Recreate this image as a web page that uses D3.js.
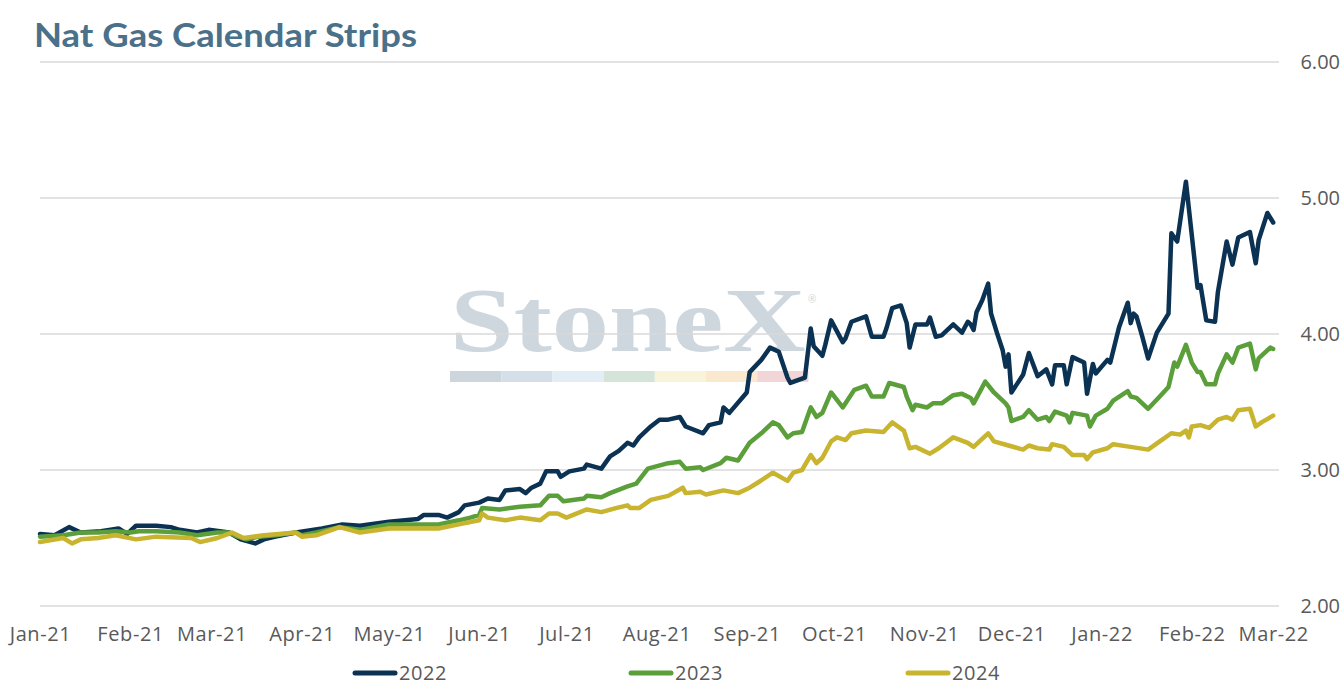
<!DOCTYPE html>
<html>
<head>
<meta charset="utf-8">
<script src="https://cdn.jsdelivr.net/npm/d3@7"></script>
<style>
  body { margin: 0; background: #fff; }
  svg { display: block; }
  .tick text { font-family: "Open Sans", Lato, sans-serif; fill: #595959; }
</style>
</head>
<body>
<svg id="chart" width="1344" height="695"></svg>
<script>
// ---- data ----
const seriesNames = ["2022", "2023", "2024"];
const seriesColors = ["#0b3253", "#5b9f3b", "#c9b42f"];
const yTicks = [2, 3, 4, 5, 6];

const strip2022 = [
  ["2021-01-01",2.53],["2021-01-06",2.52],["2021-01-11",2.58],["2021-01-15",2.54],["2021-01-22",2.55],
  ["2021-01-28",2.57],["2021-01-31",2.53],["2021-02-03",2.59],["2021-02-10",2.59],["2021-02-15",2.58],
  ["2021-02-18",2.56],["2021-02-24",2.54],["2021-02-28",2.56],["2021-03-07",2.54],["2021-03-11",2.49],
  ["2021-03-16",2.46],["2021-03-19",2.49],["2021-03-23",2.51],["2021-03-30",2.54],["2021-04-08",2.57],
  ["2021-04-15",2.60],["2021-04-21",2.59],["2021-05-01",2.62],["2021-05-11",2.64],["2021-05-13",2.67],
  ["2021-05-18",2.67],["2021-05-21",2.65],["2021-05-25",2.69],["2021-05-27",2.74],["2021-06-01",2.76],
  ["2021-06-04",2.79],["2021-06-08",2.78],["2021-06-10",2.85],["2021-06-15",2.86],["2021-06-17",2.83],
  ["2021-06-19",2.87],["2021-06-22",2.90],["2021-06-24",2.99],["2021-06-28",2.99],["2021-06-29",2.95],
  ["2021-07-02",2.99],["2021-07-07",3.01],["2021-07-08",3.04],["2021-07-13",3.01],["2021-07-16",3.10],
  ["2021-07-19",3.14],["2021-07-22",3.20],["2021-07-24",3.18],["2021-07-26",3.24],["2021-07-30",3.32],
  ["2021-08-02",3.37],["2021-08-05",3.37],["2021-08-09",3.39],["2021-08-11",3.32],["2021-08-17",3.27],
  ["2021-08-19",3.33],["2021-08-23",3.35],["2021-08-24",3.46],["2021-08-26",3.42],["2021-09-01",3.57],
  ["2021-09-02",3.72],["2021-09-06",3.81],["2021-09-09",3.90],["2021-09-12",3.87],["2021-09-15",3.68],
  ["2021-09-16",3.64],["2021-09-21",3.68],["2021-09-23",4.04],["2021-09-24",3.91],["2021-09-27",3.84],
  ["2021-09-28",3.92],["2021-09-30",4.10],["2021-10-04",3.94],["2021-10-05",3.97],["2021-10-07",4.09],
  ["2021-10-12",4.13],["2021-10-14",3.98],["2021-10-18",3.98],["2021-10-19",4.04],["2021-10-21",4.19],
  ["2021-10-24",4.21],["2021-10-26",4.08],["2021-10-27",3.90],["2021-10-29",4.07],["2021-11-02",4.07],
  ["2021-11-03",4.12],["2021-11-05",3.98],["2021-11-07",3.99],["2021-11-11",4.07],["2021-11-14",4.01],
  ["2021-11-16",4.09],["2021-11-17",4.07],["2021-11-18",4.03],["2021-11-19",4.16],["2021-11-21",4.25],
  ["2021-11-23",4.37],["2021-11-24",4.15],["2021-11-26",4.01],["2021-11-28",3.88],["2021-11-29",3.76],
  ["2021-11-30",3.85],["2021-12-01",3.57],["2021-12-05",3.70],["2021-12-07",3.86],["2021-12-10",3.69],
  ["2021-12-13",3.74],["2021-12-15",3.63],["2021-12-16",3.77],["2021-12-19",3.77],["2021-12-20",3.63],
  ["2021-12-22",3.83],["2021-12-26",3.79],["2021-12-27",3.56],["2021-12-29",3.78],["2021-12-30",3.71],
  ["2022-01-03",3.81],["2022-01-04",3.79],["2022-01-07",4.05],["2022-01-10",4.23],["2022-01-11",4.08],
  ["2022-01-12",4.15],["2022-01-13",4.13],["2022-01-15",3.98],["2022-01-17",3.82],["2022-01-20",4.01],
  ["2022-01-24",4.15],["2022-01-25",4.74],["2022-01-27",4.68],["2022-01-30",5.12],["2022-02-03",4.34],
  ["2022-02-04",4.36],["2022-02-06",4.10],["2022-02-09",4.09],["2022-02-10",4.31],["2022-02-13",4.68],
  ["2022-02-15",4.51],["2022-02-17",4.71],["2022-02-21",4.75],["2022-02-23",4.52],["2022-02-24",4.69],
  ["2022-02-27",4.89],["2022-03-01",4.82]
];

const strip2023 = [
  ["2021-01-01",2.51],["2021-01-09",2.52],["2021-01-15",2.54],["2021-01-21",2.54],["2021-01-27",2.55],
  ["2021-02-01",2.54],["2021-02-04",2.55],["2021-02-10",2.55],["2021-02-18",2.54],["2021-02-24",2.52],
  ["2021-03-03",2.54],["2021-03-07",2.54],["2021-03-10",2.51],["2021-03-13",2.49],["2021-03-17",2.51],
  ["2021-03-23",2.52],["2021-03-30",2.54],["2021-04-01",2.52],["2021-04-06",2.54],["2021-04-14",2.58],
  ["2021-04-21",2.56],["2021-05-01",2.60],["2021-05-18",2.60],["2021-05-25",2.63],["2021-05-29",2.65],
  ["2021-06-01",2.67],["2021-06-02",2.72],["2021-06-08",2.71],["2021-06-15",2.73],["2021-06-22",2.74],
  ["2021-06-25",2.81],["2021-06-28",2.81],["2021-06-30",2.77],["2021-07-07",2.79],["2021-07-08",2.81],
  ["2021-07-13",2.80],["2021-07-16",2.83],["2021-07-22",2.88],["2021-07-25",2.90],["2021-07-29",3.01],
  ["2021-08-05",3.05],["2021-08-09",3.06],["2021-08-11",3.01],["2021-08-16",3.02],["2021-08-17",3.00],
  ["2021-08-23",3.05],["2021-08-25",3.09],["2021-08-29",3.07],["2021-09-02",3.20],["2021-09-06",3.27],
  ["2021-09-10",3.35],["2021-09-12",3.33],["2021-09-15",3.24],["2021-09-17",3.27],["2021-09-20",3.28],
  ["2021-09-23",3.46],["2021-09-25",3.39],["2021-09-27",3.42],["2021-09-30",3.57],["2021-10-04",3.46],
  ["2021-10-08",3.59],["2021-10-12",3.62],["2021-10-14",3.54],["2021-10-18",3.54],["2021-10-20",3.64],
  ["2021-10-25",3.61],["2021-10-26",3.54],["2021-10-28",3.44],["2021-10-29",3.48],["2021-11-02",3.46],
  ["2021-11-04",3.49],["2021-11-07",3.49],["2021-11-11",3.55],["2021-11-14",3.56],["2021-11-17",3.53],
  ["2021-11-18",3.49],["2021-11-22",3.65],["2021-11-25",3.57],["2021-11-29",3.49],["2021-11-30",3.46],
  ["2021-12-01",3.36],["2021-12-05",3.39],["2021-12-07",3.44],["2021-12-10",3.37],["2021-12-13",3.39],
  ["2021-12-14",3.36],["2021-12-16",3.43],["2021-12-20",3.40],["2021-12-21",3.35],["2021-12-22",3.42],
  ["2021-12-27",3.40],["2021-12-28",3.32],["2021-12-30",3.40],["2022-01-03",3.45],["2022-01-05",3.51],
  ["2022-01-10",3.58],["2022-01-11",3.54],["2022-01-13",3.53],["2022-01-17",3.45],["2022-01-21",3.54],
  ["2022-01-24",3.61],["2022-01-26",3.79],["2022-01-27",3.76],["2022-01-30",3.92],["2022-02-01",3.79],
  ["2022-02-03",3.72],["2022-02-04",3.72],["2022-02-06",3.63],["2022-02-09",3.63],["2022-02-10",3.71],
  ["2022-02-13",3.85],["2022-02-15",3.79],["2022-02-17",3.90],["2022-02-21",3.93],["2022-02-23",3.74],
  ["2022-02-24",3.82],["2022-02-28",3.90],["2022-03-01",3.89]
];

const strip2024 = [
  ["2021-01-01",2.47],["2021-01-09",2.50],["2021-01-12",2.46],["2021-01-15",2.49],["2021-01-21",2.50],
  ["2021-01-27",2.52],["2021-02-03",2.49],["2021-02-10",2.51],["2021-02-22",2.50],["2021-02-25",2.47],
  ["2021-03-03",2.50],["2021-03-08",2.54],["2021-03-12",2.50],["2021-03-19",2.52],["2021-03-30",2.54],
  ["2021-04-01",2.51],["2021-04-06",2.52],["2021-04-14",2.58],["2021-04-21",2.54],["2021-05-01",2.57],
  ["2021-05-18",2.57],["2021-05-25",2.60],["2021-06-01",2.63],["2021-06-02",2.68],["2021-06-04",2.65],
  ["2021-06-10",2.63],["2021-06-15",2.65],["2021-06-22",2.63],["2021-06-25",2.68],["2021-06-28",2.68],
  ["2021-07-01",2.65],["2021-07-08",2.71],["2021-07-13",2.69],["2021-07-18",2.72],["2021-07-22",2.74],
  ["2021-07-23",2.72],["2021-07-26",2.72],["2021-07-30",2.78],["2021-08-05",2.81],["2021-08-10",2.87],
  ["2021-08-11",2.83],["2021-08-16",2.84],["2021-08-18",2.82],["2021-08-24",2.85],["2021-08-29",2.83],
  ["2021-09-02",2.87],["2021-09-05",2.91],["2021-09-10",2.98],["2021-09-15",2.92],["2021-09-17",2.98],
  ["2021-09-20",3.00],["2021-09-23",3.11],["2021-09-25",3.05],["2021-09-27",3.09],["2021-09-30",3.21],
  ["2021-10-02",3.24],["2021-10-05",3.22],["2021-10-07",3.27],["2021-10-12",3.29],["2021-10-18",3.28],
  ["2021-10-21",3.35],["2021-10-25",3.29],["2021-10-27",3.16],["2021-10-29",3.17],["2021-11-03",3.12],
  ["2021-11-06",3.16],["2021-11-11",3.24],["2021-11-16",3.20],["2021-11-18",3.17],["2021-11-20",3.21],
  ["2021-11-23",3.27],["2021-11-25",3.21],["2021-11-30",3.18],["2021-12-05",3.15],["2021-12-07",3.18],
  ["2021-12-10",3.16],["2021-12-14",3.15],["2021-12-15",3.19],["2021-12-19",3.17],["2021-12-22",3.11],
  ["2021-12-26",3.11],["2021-12-27",3.08],["2021-12-29",3.13],["2022-01-03",3.16],["2022-01-05",3.19],
  ["2022-01-11",3.17],["2022-01-17",3.15],["2022-01-21",3.21],["2022-01-25",3.27],["2022-01-28",3.26],
  ["2022-01-30",3.29],["2022-01-31",3.24],["2022-02-01",3.32],["2022-02-04",3.33],["2022-02-07",3.31],
  ["2022-02-10",3.37],["2022-02-13",3.39],["2022-02-15",3.37],["2022-02-17",3.44],["2022-02-21",3.45],
  ["2022-02-23",3.32],["2022-02-25",3.35],["2022-03-01",3.40]
];

const allSeries = [strip2022, strip2023, strip2024];

// ---- chart ----
const parseDate = d3.timeParse("%Y-%m-%d");
const svg = d3.select("#chart");

const x = d3.scaleTime()
  .domain([parseDate("2021-01-01"), parseDate("2022-03-03")])
  .range([40, 1279]);

const y = d3.scaleLinear()
  .domain([2, 6])
  .range([606, 62]);

// title
svg.append("text")
  .attr("x", 34)
  .attr("y", 47)
  .attr("font-family", "Lato, 'Open Sans', sans-serif")
  .attr("font-weight", 700)
  .attr("font-size", 32)
  .attr("textLength", 383)
  .attr("lengthAdjust", "spacingAndGlyphs")
  .attr("fill", "#4b7089")
  .text("Nat Gas Calendar Strips");

// watermark
const wm = svg.append("g").attr("class", "watermark");
wm.append("text")
  .attr("x", 450)
  .attr("y", 351)
  .attr("font-family", "'Liberation Serif', 'DejaVu Serif', serif")
  .attr("font-weight", 700)
  .attr("font-size", 92)
  .attr("textLength", 356)
  .attr("lengthAdjust", "spacingAndGlyphs")
  .attr("fill", "#cfd7de")
  .text("StoneX");
wm.append("text")
  .attr("x", 808)
  .attr("y", 303)
  .attr("font-family", "'Open Sans', sans-serif")
  .attr("font-size", 10)
  .attr("fill", "#cfd7de")
  .text("\u00AE");
const bandColors = ["#cdd5dd", "#d5dfe9", "#e2edf5", "#d4e4d9", "#f7f4da", "#fbe9cf", "#f1d5d7"];
wm.selectAll("rect")
  .data(bandColors)
  .enter()
  .append("rect")
  .attr("x", (d, i) => 450 + i * 51.2)
  .attr("y", 371)
  .attr("width", 51.2)
  .attr("height", 11)
  .attr("fill", d => d);

// gridlines
svg.append("g")
  .selectAll("line")
  .data(yTicks)
  .enter()
  .append("line")
  .attr("x1", 40)
  .attr("x2", 1279)
  .attr("y1", d => y(d))
  .attr("y2", d => y(d))
  .attr("stroke", "#d9d9d9")
  .attr("stroke-width", 1.5);

// y axis (right)
const yAxis = svg.append("g")
  .attr("transform", "translate(1340,0)")
  .call(d3.axisRight(y).tickValues(yTicks).tickSize(0).tickFormat(d3.format(".2f")));
yAxis.select(".domain").remove();
yAxis.selectAll("text")
  .attr("x", 0)
  .attr("text-anchor", "end")
  .attr("font-size", 20);

// x axis
const xAxis = svg.append("g")
  .attr("transform", "translate(0,624)")
  .call(d3.axisBottom(x)
    .ticks(d3.timeMonth.every(1))
    .tickSize(0)
    .tickFormat(d3.timeFormat("%b-%y")));
xAxis.select(".domain").remove();
xAxis.selectAll("text")
  .attr("font-size", 20)
  .attr("letter-spacing", 0.6)
  .attr("dy", "0.71em");

// lines
const line = d3.line()
  .x(d => x(parseDate(d[0])))
  .y(d => y(d[1]));

svg.append("g")
  .selectAll("path")
  .data(allSeries)
  .enter()
  .append("path")
  .attr("d", line)
  .attr("fill", "none")
  .attr("stroke", (d, i) => seriesColors[i])
  .attr("stroke-width", 4.5)
  .attr("stroke-linejoin", "round")
  .attr("stroke-linecap", "round");

// legend
const legendX = [353, 629, 906];
const legend = svg.append("g")
  .selectAll("g")
  .data(seriesNames)
  .enter()
  .append("g")
  .attr("transform", (d, i) => `translate(${legendX[i]},673)`);
legend.append("line")
  .attr("x1", 2)
  .attr("x2", 42)
  .attr("stroke", (d, i) => seriesColors[i])
  .attr("stroke-width", 5)
  .attr("stroke-linecap", "round");
legend.append("text")
  .attr("x", 46)
  .attr("y", 7)
  .attr("font-family", "'Open Sans', Lato, sans-serif")
  .attr("font-size", 20)
  .attr("letter-spacing", 0.6)
  .attr("fill", "#595959")
  .text(d => d);
</script>
</body>
</html>
